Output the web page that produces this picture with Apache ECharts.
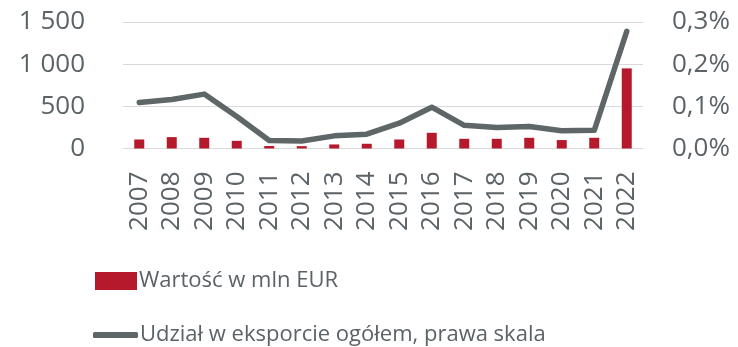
<!DOCTYPE html>
<html>
<head>
<meta charset="utf-8">
<script src="https://cdn.jsdelivr.net/npm/echarts@6/dist/echarts.min.js"></script>
<style>
  html, body { margin: 0; padding: 0; background: #fff; }
  #chart { width: 738px; height: 347px; }
</style>
</head>
<body>
<div id="chart"></div>
<script>
// Years on the category axis
const years = ['2007', '2008', '2009', '2010', '2011', '2012', '2013', '2014',
               '2015', '2016', '2017', '2018', '2019', '2020', '2021', '2022'];
// Export value, million EUR (left axis)
const valueMlnEur = [107, 135, 127, 91, 30, 28, 48, 56,
                     107, 186, 115, 115, 127, 100, 127, 950];
// Share of total exports, % (right axis)
const sharePct = [0.109, 0.116, 0.129, 0.076, 0.019, 0.018, 0.030, 0.034,
                  0.060, 0.098, 0.055, 0.050, 0.052, 0.042, 0.043, 0.278];
// Axis ticks
const leftTicks = [0, 500, 1000, 1500];
const rightTicks = [0, 0.1, 0.2, 0.3];

const barName = 'Wartość w mln EUR';
const lineName = 'Udział w eksporcie ogółem, prawa skala';

const textColor = '#5b6367';
const font = '"Open Sans", "DejaVu Sans", sans-serif';

const chart = echarts.init(document.getElementById('chart'), null, { renderer: 'canvas' });

chart.setOption({
  animation: false,
  backgroundColor: '#ffffff',
  grid: { left: 123, right: 95, top: 22, bottom: 198.5, containLabel: false },
  legend: [
    {
      data: [{ name: barName, icon: 'rect' }],
      left: 90, top: 265,
      itemWidth: 42, itemHeight: 18, itemGap: 0,
      textStyle: { color: textColor, fontSize: 22, fontFamily: font, padding: [0, 0, 0, -3] }
    },
    {
      data: [{ name: lineName, icon: 'roundRect' }],
      left: 88, top: 319,
      itemWidth: 45, itemHeight: 6, itemGap: 0,
      textStyle: { color: textColor, fontSize: 22, fontFamily: font, padding: [0, 0, 0, -3] }
    }
  ],
  xAxis: {
    type: 'category',
    data: years,
    boundaryGap: true,
    axisLine: { show: false },
    axisTick: { show: false },
    axisLabel: {
      interval: 0, rotate: 90, margin: 23,
      color: textColor, fontSize: 26, fontFamily: font
    }
  },
  yAxis: [
    {
      type: 'value',
      min: leftTicks[0], max: leftTicks[leftTicks.length - 1], interval: 500,
      axisLine: { show: false },
      axisTick: { show: false },
      splitLine: { lineStyle: { color: '#d9d9d9', width: 1 } },
      axisLabel: {
        margin: 38, color: textColor, fontSize: 26, fontFamily: font,
        formatter: v => String(v).replace(/\B(?=(\d{3})+(?!\d))/g, ' ')
      }
    },
    {
      type: 'value',
      min: rightTicks[0], max: rightTicks[rightTicks.length - 1], interval: 0.1,
      axisLine: { show: false },
      axisTick: { show: false },
      splitLine: { show: false },
      axisLabel: {
        margin: 29, color: textColor, fontSize: 26, fontFamily: font,
        formatter: v => v.toFixed(1).replace('.', ',') + '%'
      }
    }
  ],
  series: [
    {
      name: barName,
      type: 'bar',
      data: valueMlnEur,
      yAxisIndex: 0,
      barWidth: 10,
      itemStyle: { color: '#b5192b' }
    },
    {
      name: lineName,
      type: 'line',
      data: sharePct,
      yAxisIndex: 1,
      symbol: 'none',
      smooth: false,
      lineStyle: { color: '#5f6668', width: 5.5, cap: 'round', join: 'round' },
      itemStyle: { color: '#5f6668' }
    }
  ]
});
</script>
</body>
</html>
